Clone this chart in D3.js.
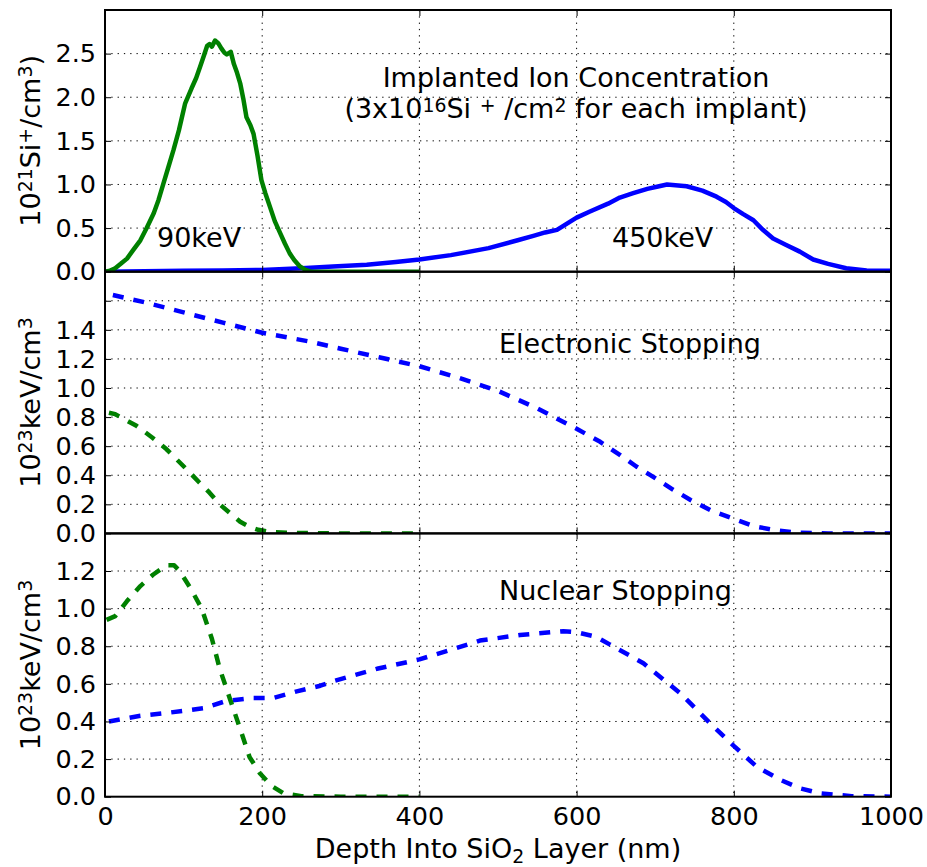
<!DOCTYPE html>
<html>
<head>
<meta charset="utf-8">
<script src="https://cdn.jsdelivr.net/npm/d3@7"></script>
<style>
  body { margin: 0; background: #fff; }
  text { font-family: "DejaVu Sans", sans-serif; fill: #000; }
</style>
</head>
<body>
<svg id="chart" width="927" height="867"></svg>
<script>
// ---- Depth profiles (depth in nm, value in panel units) ----
// Implanted Si+ concentration, 10^21 Si+/cm^3
const ion90 = [[0,0.0],[6,0.01],[13,0.04],[20,0.09],[28,0.15],[36,0.25],[45,0.36],[53,0.50],[62,0.67],[68,0.82],[74,1.0],[80,1.18],[87,1.39],[94,1.62],[102,1.93],[110,2.10],[116,2.22],[121,2.35],[126,2.48],[130,2.59],[133,2.61],[136,2.58],[140,2.65],[144,2.62],[148,2.56],[152,2.51],[155,2.49],[160,2.52],[164,2.38],[168,2.28],[172,2.16],[176,1.98],[180,1.77],[185,1.68],[189,1.58],[194,1.33],[199,1.05],[204,0.90],[210,0.74],[216,0.58],[223,0.44],[229,0.32],[235,0.21],[241,0.13],[248,0.06],[255,0.02],[262,0.0],[300,0.0],[400,0.0]];
const ion450 = [[0,0.0],[50,0.005],[100,0.01],[150,0.015],[200,0.02],[250,0.04],[290,0.06],[333,0.08],[370,0.11],[400,0.14],[440,0.19],[488,0.27],[525,0.36],[545,0.41],[560,0.45],[575,0.48],[600,0.62],[617,0.69],[640,0.78],[655,0.85],[672,0.90],[690,0.95],[705,0.98],[715,1.0],[740,0.98],[760,0.93],[778,0.86],[790,0.80],[800,0.73],[812,0.66],[825,0.59],[837,0.48],[850,0.38],[866,0.31],[884,0.23],[901,0.14],[920,0.09],[943,0.04],[969,0.015],[1000,0.01]];

// Electronic stopping, 10^23 keV/cm^3
const elec90 = [[5,0.83],[13,0.82],[40,0.74],[60,0.66],[78,0.58],[104,0.44],[120,0.35],[133,0.28],[146,0.20],[159,0.14],[172,0.08],[184,0.045],[195,0.025],[210,0.01],[240,0.003],[300,0.0],[400,0.0]];
const elec450 = [[10,1.64],[50,1.59],[100,1.52],[150,1.45],[200,1.38],[260,1.32],[300,1.27],[350,1.21],[400,1.15],[450,1.07],[500,0.98],[550,0.86],[600,0.72],[630,0.63],[655,0.54],[676,0.46],[700,0.38],[723,0.30],[745,0.23],[770,0.16],[800,0.10],[825,0.05],[855,0.02],[880,0.005],[920,0.0],[1000,0.0]];

// Nuclear stopping, 10^23 keV/cm^3
const nucl90 = [[2,0.94],[13,0.96],[28,1.04],[45,1.12],[61,1.18],[78,1.23],[88,1.23],[95,1.20],[110,1.10],[123,1.00],[136,0.84],[146,0.68],[159,0.52],[172,0.36],[184,0.21],[197,0.125],[212,0.057],[227,0.018],[250,0.003],[300,0.0],[400,0.0]];
const nucl450 = [[5,0.40],[45,0.43],[78,0.445],[125,0.47],[155,0.51],[189,0.525],[214,0.525],[244,0.56],[274,0.59],[291,0.615],[346,0.68],[400,0.73],[447,0.79],[477,0.83],[528,0.86],[583,0.88],[600,0.875],[625,0.85],[642,0.81],[685,0.71],[732,0.55],[770,0.39],[800,0.27],[829,0.16],[859,0.09],[884,0.045],[910,0.018],[950,0.003],[1000,0.0]];

// ---- Axes ----
const depthDomain = [0, 1000];
const depthTicks = [0, 200, 400, 600, 800, 1000];
const depthTickLabels = ["0", "200", "400", "600", "800", "1000"];

const ionDomain = [0, 3.0];
const ionTicks = [0, 0.5, 1.0, 1.5, 2.0, 2.5];
const ionTickLabels = ["0.0", "0.5", "1.0", "1.5", "2.0", "2.5"];

const elecDomain = [0, 1.8];
const elecTicks = [0, 0.2, 0.4, 0.6, 0.8, 1.0, 1.2, 1.4, 1.6];
const elecTickLabels = ["0.0", "0.2", "0.4", "0.6", "0.8", "1.0", "1.2", "1.4", ""];

const nuclDomain = [0, 1.4];
const nuclTicks = [0, 0.2, 0.4, 0.6, 0.8, 1.0, 1.2];
const nuclTickLabels = ["0.0", "0.2", "0.4", "0.6", "0.8", "1.0", "1.2"];

const BLUE = "#0000ff", GREEN = "#008000";

const svg = d3.select("#chart");
svg.append("rect").attr("width", 927).attr("height", 867).attr("fill", "#fff");

const left = 105, right = 891;
const x = d3.scaleLinear().domain(depthDomain).range([left, right]);

const panels = [
  { top: 10, bottom: 271.7, domain: ionDomain, ticks: ionTicks, labels: ionTickLabels,
    series: [{ data: ion450, color: BLUE, dash: null }, { data: ion90, color: GREEN, dash: null }] },
  { top: 271.7, bottom: 533.4, domain: elecDomain, ticks: elecTicks, labels: elecTickLabels,
    series: [{ data: elec450, color: BLUE, dash: "11,10" }, { data: elec90, color: GREEN, dash: "11,10" }] },
  { top: 533.4, bottom: 796.7, domain: nuclDomain, ticks: nuclTicks, labels: nuclTickLabels,
    series: [{ data: nucl450, color: BLUE, dash: "11,10" }, { data: nucl90, color: GREEN, dash: "11,10" }] }
];

const TICK_FONT = 25.5;

panels.forEach((p, i) => {
  const y = d3.scaleLinear().domain(p.domain).range([p.bottom, p.top]);
  const g = svg.append("g");
  const clipId = "clip" + i;
  svg.append("defs").append("clipPath").attr("id", clipId)
    .append("rect").attr("x", left).attr("y", p.top).attr("width", right - left).attr("height", p.bottom - p.top);

  // dotted grid
  const grid = g.append("g").attr("stroke", "#000").attr("stroke-width", 1).attr("stroke-dasharray", "1.3,5");
  grid.selectAll("line.h").data(p.ticks.filter(t => t > p.domain[0] && t < p.domain[1])).join("line")
    .attr("class", "h")
    .attr("x1", left).attr("x2", right).attr("y1", d => y(d)).attr("y2", d => y(d));
  grid.selectAll("line.v").data(depthTicks.filter(t => t > depthDomain[0] && t < depthDomain[1])).join("line")
    .attr("class", "v")
    .attr("y1", p.top).attr("y2", p.bottom).attr("x1", d => x(d)).attr("x2", d => x(d));

  // curves
  const line = d3.line().x(d => x(d[0])).y(d => y(d[1]));
  const lines = g.append("g").attr("clip-path", `url(#${clipId})`);
  p.series.forEach(s => {
    lines.append("path").datum(s.data)
      .attr("d", line)
      .attr("fill", "none")
      .attr("stroke", s.color)
      .attr("stroke-width", 4.5)
      .attr("stroke-linejoin", "round")
      .attr("stroke-dasharray", s.dash);
  });

  // axes with inward ticks
  const yAxis = d3.axisLeft(y).tickValues(p.ticks)
    .tickFormat((d, k) => p.labels[k]).tickSize(-6).tickPadding(9);
  const ya = g.append("g").attr("transform", `translate(${left},0)`).call(yAxis);
  ya.select(".domain").remove();
  ya.selectAll("text").attr("font-size", TICK_FONT).attr("font-family", "DejaVu Sans")
    .filter(function () { return this.textContent === ""; }).remove();

  const yAxisR = d3.axisRight(y).tickValues(p.ticks).tickFormat("").tickSize(-6);
  const yr = g.append("g").attr("transform", `translate(${right},0)`).call(yAxisR);
  yr.select(".domain").remove();
  yr.selectAll("text").remove();

  const xTop = d3.axisTop(x).tickValues(depthTicks).tickFormat("").tickSize(-6);
  const xt = g.append("g").attr("transform", `translate(0,${p.top})`).call(xTop);
  xt.select(".domain").remove();
  xt.selectAll("text").remove();

  const xBot = d3.axisBottom(x).tickValues(depthTicks)
    .tickFormat((d, k) => i === 2 ? depthTickLabels[k] : "").tickSize(-6).tickPadding(10);
  const xb = g.append("g").attr("transform", `translate(0,${p.bottom})`).call(xBot);
  xb.select(".domain").remove();
  if (i === 2) xb.selectAll("text").attr("font-size", TICK_FONT).attr("font-family", "DejaVu Sans");
  else xb.selectAll("text").remove();

  g.selectAll(".tick line").attr("stroke", "#000").attr("stroke-width", 1);

  // frame
  g.append("rect").attr("x", left).attr("y", p.top).attr("width", right - left).attr("height", p.bottom - p.top)
    .attr("fill", "none").attr("stroke", "#000").attr("stroke-width", 2);
});

// rich text helper: parts of {t, sup, sub}; offsets are carried into the next run
function rich(sel, parts, size, raiseEm = 0.31) {
  const small = size * 0.7;
  const raise = size * raiseEm, drop = size * 0.2;
  let carry = 0;
  parts.forEach(pt => {
    const ts = sel.append("tspan");
    if (pt.sup) {
      ts.attr("font-size", small).attr("dy", carry - raise);
      carry = raise;
    } else if (pt.sub) {
      ts.attr("font-size", small).attr("dy", carry + drop);
      carry = -drop;
    } else {
      ts.attr("font-size", size).attr("dy", carry);
      carry = 0;
    }
    ts.text(pt.t);
  });
  return sel;
}

const LABEL_FONT = 27;

// y-axis titles
const yTitles = [
  [{ t: "10" }, { t: "21", sup: true }, { t: "Si" }, { t: "+", sup: true }, { t: "/cm" }, { t: "3", sup: true }, { t: ")" }],
  [{ t: "10" }, { t: "23", sup: true }, { t: "keV/cm" }, { t: "3", sup: true }],
  [{ t: "10" }, { t: "23", sup: true }, { t: "keV/cm" }, { t: "3", sup: true }]
];
panels.forEach((p, i) => {
  const cy = (p.top + p.bottom) / 2;
  const t = svg.append("text").attr("text-anchor", "middle").attr("font-size", LABEL_FONT)
    .attr("transform", `translate(40,${cy}) rotate(-90)`);
  rich(t, yTitles[i], LABEL_FONT);
});

// x-axis title
rich(svg.append("text").attr("text-anchor", "middle").attr("font-size", LABEL_FONT)
  .attr("x", (left + right) / 2).attr("y", 858),
  [{ t: "Depth Into SiO" }, { t: "2", sub: true }, { t: " Layer (nm)" }], LABEL_FONT);

// in-panel annotations
svg.append("text").attr("text-anchor", "middle").attr("font-size", LABEL_FONT)
  .attr("x", 576).attr("y", 86.5).text("Implanted Ion Concentration");
rich(svg.append("text").attr("text-anchor", "middle").attr("font-size", LABEL_FONT)
  .attr("x", 576).attr("y", 118),
  [{ t: "(3x10" }, { t: "16", sup: true }, { t: "Si " }, { t: "+", sup: true }, { t: " /cm" }, { t: "2", sup: true }, { t: " for each implant)" }],
  LABEL_FONT, 0.23);
svg.append("text").attr("x", 157).attr("y", 247).attr("font-size", LABEL_FONT).text("90keV");
svg.append("text").attr("x", 612).attr("y", 247).attr("font-size", LABEL_FONT).text("450keV");
svg.append("text").attr("x", 499).attr("y", 352.5).attr("font-size", LABEL_FONT).text("Electronic Stopping");
svg.append("text").attr("x", 499).attr("y", 600).attr("font-size", LABEL_FONT).text("Nuclear Stopping");
</script>
</body>
</html>
